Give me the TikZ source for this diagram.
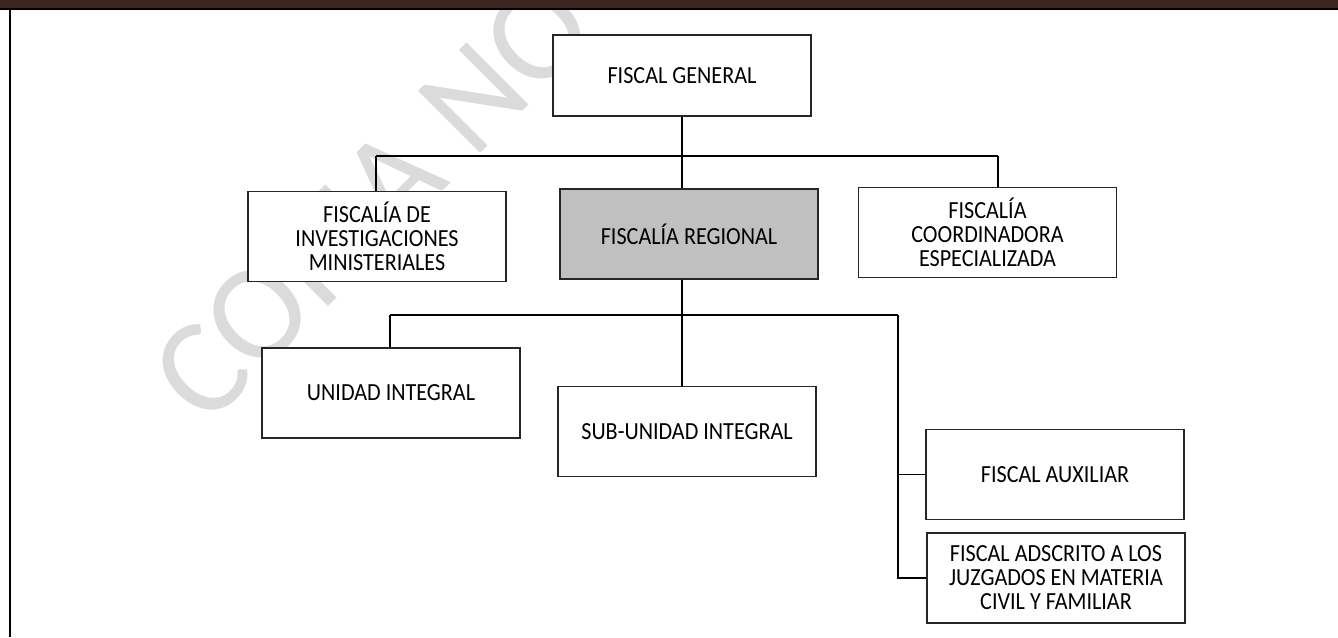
\documentclass[tikz,border=0pt]{standalone}
\usepackage{fontspec}
\setmainfont{Carlito}
\newfontfamily\boxfont[FakeStretch=0.9]{Carlito}
\definecolor{bandbrown}{HTML}{3D2620}
\definecolor{regiongray}{HTML}{C0C0C0}

\begin{document}
\begin{tikzpicture}[x=0.02cm,y=-0.02cm,
  unit/.style={draw=black!85, line width=0.03cm, fill=white, minimum width=5.17cm,
    minimum height=1.8cm, align=center, inner sep=0pt,
    font=\boxfont\fontsize{14}{13.7}\selectfont},
  link/.style={line width=0.035cm}]
\useasboundingbox (0,0) rectangle (1338,637);

% watermark and frame
\node[rotate=45, text=black!14, font=\fontsize{78}{78}\selectfont] (wm) at (372,200) {COPIA NO};
\fill[bandbrown] (0,0) rectangle (1338,8);
\draw[line width=0.05cm] (0,9) -- (1338,9);
\draw[line width=0.045cm] (10,9) -- (10,637);

\node[unit, minimum height=1.62cm] (gen) at (682,75.5) {FISCAL GENERAL};
\node[unit] (inv) at (377,236.5) {FISCALÍA DE\\INVESTIGACIONES\\MINISTERIALES};
\node[unit, fill=regiongray] (reg) at (689,234) {FISCALÍA REGIONAL};
\node[unit] (coor) at (987.5,232.5) {FISCALÍA\\COORDINADORA\\ESPECIALIZADA};
\node[unit] (uni) at (391,393) {UNIDAD INTEGRAL};
\node[unit] (sub) at (687,431.5) {SUB-UNIDAD INTEGRAL};
\node[unit] (aux) at (1055,474.5) {FISCAL AUXILIAR};
\node[unit] (ads) at (1056,578) {FISCAL ADSCRITO A LOS\\JUZGADOS EN MATERIA\\CIVIL Y FAMILIAR};

\coordinate (bar1l) at (376,156);
\coordinate (bar1r) at (998,156);
\coordinate (bar2l) at (390,315);
\coordinate (bar2r) at (898,315);

\draw[link] (gen.south) -- (gen.south |- reg.north);
\draw[link] (bar1l) -- (bar1r);
\draw[link] (bar1l) -- (bar1l |- inv.north);
\draw[link] (bar1r) -- (bar1r |- coor.north);
\draw[link] (gen.south |- reg.south) -- (gen.south |- sub.north);
\draw[link] (bar2l) -- (bar2r);
\draw[link] (bar2l) -- (bar2l |- uni.north);
\foreach \b in {aux,ads}
  \draw[link] (bar2r) |- (\b.west);
\end{tikzpicture}
\end{document}
